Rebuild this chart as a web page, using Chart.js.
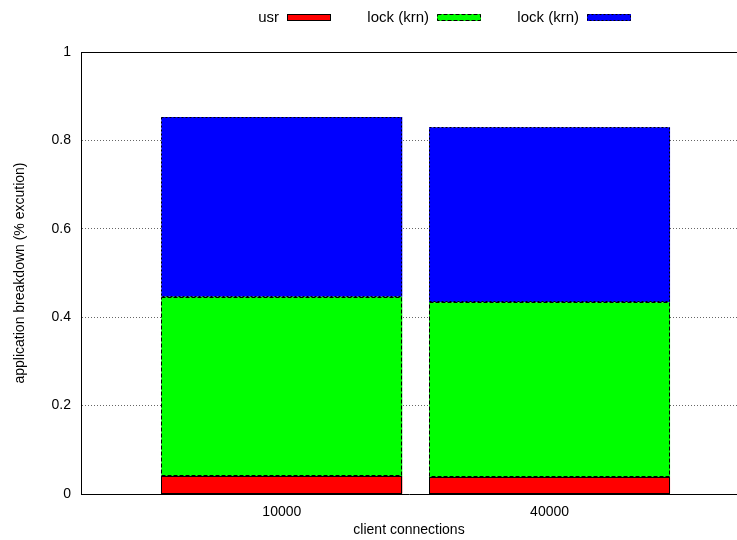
<!DOCTYPE html>
<html>
<head>
<meta charset="utf-8">
<script src="https://cdn.jsdelivr.net/npm/chart.js@4.4.0/dist/chart.umd.min.js"></script>
<style>
html, body { margin: 0; padding: 0; overflow: hidden; background: #fff; }
</style>
</head>
<body>
<canvas id="c" width="737" height="540"></canvas>
<script>
// data
const connections = ['10000', '40000'];
const seriesNames = ['usr', 'lock (krn)', 'lock (krn)'];
const usr      = [0.040, 0.038];
const lockKrnA = [0.406, 0.396];
const lockKrnB = [0.407, 0.396];
const yTicks   = [0, 0.2, 0.4, 0.6, 0.8, 1];

const colors = ['#ff0000', '#00ff00', '#0000ff'];
const dashes = [[], [4, 2], [2, 2]];

Chart.defaults.font.family = '"Liberation Sans", Arial, Helvetica, sans-serif';
Chart.defaults.font.size = 14;
Chart.defaults.color = '#000';

// dashed outlines round each bar segment (gnuplot style)
var barOutlines = {
    id: 'barOutlines',
    afterDatasetsDraw: function(chart) {
        var ctx = chart.ctx;
        chart.data.datasets.forEach(function(ds, i) {
            chart.getDatasetMeta(i).data.forEach(function(bar) {
                var p = bar.getProps(['x', 'y', 'base', 'width'], true);
                var l = Math.round(p.x - p.width / 2) + 0.5;
                var r = Math.round(p.x + p.width / 2) - 0.5;
                var t = Math.round(p.y) + 0.5;
                var b = Math.round(p.base) - 0.5;
                ctx.save();
                ctx.strokeStyle = '#000';
                ctx.lineWidth = 1;
                ctx.setLineDash(dashes[i]);
                ctx.strokeRect(l, t, r - l, b - t);
                ctx.restore();
            });
        });
    }
};

// top frame line + legend with text left of the sample box
var frameAndKey = {
    id: 'frameAndKey',
    afterDraw: function(chart) {
        var ctx = chart.ctx;
        var area = chart.chartArea;
        ctx.save();
        ctx.strokeStyle = '#000';
        ctx.lineWidth = 1;
        ctx.beginPath();
        ctx.moveTo(area.left, Math.round(area.top) + 0.5);
        ctx.lineTo(area.right, Math.round(area.top) + 0.5);
        ctx.stroke();

        ctx.font = '15px "Liberation Sans", Arial, Helvetica, sans-serif';
        ctx.textAlign = 'right';
        ctx.textBaseline = 'middle';
        chart.data.datasets.forEach(function(ds, i) {
            var bx = 287 + 150 * i;
            ctx.fillStyle = '#000';
            ctx.fillText(ds.label, bx - 8, 18);
            ctx.fillStyle = ds.backgroundColor;
            ctx.fillRect(bx, 14, 44, 7);
            ctx.setLineDash(dashes[i]);
            ctx.strokeRect(bx + 0.5, 14.5, 43, 6);
        });
        ctx.restore();
    }
};

var ctx = document.getElementById('c');
new Chart(ctx, {
    type: 'bar',
    data: {
        datasets: [usr, lockKrnA, lockKrnB].map(function(vals, i) {
            return {
                label: seriesNames[i],
                data: vals.map(function(v, j) { return { x: j, y: v }; }),
                backgroundColor: colors[i],
                borderWidth: 0,
                barPercentage: 0.9,
                categoryPercentage: 1
            };
        })
    },
    options: {
        responsive: false,
        animation: false,
        devicePixelRatio: 1,
        layout: { padding: { top: 52, right: 0, left: 0, bottom: 0 } },
        plugins: {
            legend: { display: false },
            tooltip: { enabled: false }
        },
        scales: {
            x: {
                type: 'linear',
                min: -0.75,
                max: 1.70,
                offset: false,
                stacked: true,
                grid: { display: false, offset: false },
                border: { display: true, color: '#000', width: 1 },
                afterBuildTicks: function(s) {
                    s.ticks = connections.map(function(c, i) { return { value: i }; });
                },
                ticks: {
                    autoSkip: false,
                    maxRotation: 0,
                    padding: 2,
                    callback: function(v) { return connections[v]; }
                },
                title: {
                    display: true,
                    text: 'client connections',
                    align: 'center',
                    padding: { top: 0, bottom: 1 }
                },
                afterFit: function(s) { s.height = 46; }
            },
            y: {
                min: 0,
                max: 1,
                stacked: true,
                afterBuildTicks: function(s) {
                    s.ticks = yTicks.map(function(v) { return { value: v }; });
                },
                grid: {
                    drawTicks: false,
                    lineWidth: 1,
                    color: function(c) {
                        var v = c.tick ? c.tick.value : null;
                        return (v === 0 || v === 1) ? 'rgba(0,0,0,0)' : 'rgba(0,0,0,0.6)';
                    }
                },
                border: { display: true, color: '#000', width: 1, dash: [1, 2] },
                ticks: {
                    padding: 10,
                    callback: function(v) { return String(v); }
                },
                title: {
                    display: true,
                    text: 'application breakdown (% excution)',
                    padding: { top: 12, bottom: 0 }
                },
                afterFit: function(s) { s.width = 81; }
            }
        }
    },
    plugins: [barOutlines, frameAndKey]
});
</script>
</body>
</html>
